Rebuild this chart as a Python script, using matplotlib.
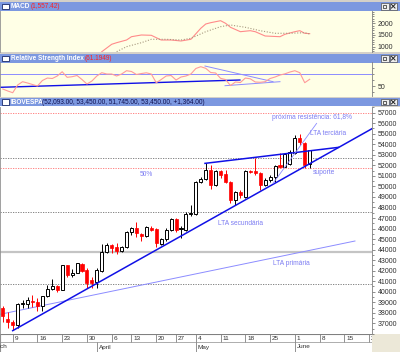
import matplotlib
matplotlib.use('Agg')
import matplotlib.pyplot as plt
from matplotlib.patches import Rectangle
from matplotlib.ticker import MultipleLocator, FixedLocator
import numpy as np
import pandas as pd

plt.rcParams['font.family'] = ['Liberation Sans', 'DejaVu Sans']

# ---------------- data ----------------
holidays = ['2009-04-10', '2009-04-21', '2009-05-01']
calendar_start = '2009-03-02'
first_candle = '2009-03-05'
calendar_end = '2009-06-30'

opens = [38485, 37410, 37160, 36840, 38830, 38830, 39150, 39055, 38675, 39560,
         40226, 40542, 40162, 42505, 41587, 41808, 42631, 42061, 41112, 40954,
         41998, 43802, 44435, 44277, 43900, 44277, 45638, 46081, 45448, 45321,
         46081, 45954, 44498, 44973, 45859, 46904, 45954, 45859, 47347, 47347,
         50449, 50702, 51556, 50132, 51461, 51145, 50449, 48708, 49499, 49024,
         51461, 51461, 51240, 50132, 50607, 50923, 52031, 51873, 52100, 53200,
         54563, 54088, 52093]
closes = [37725, 37160, 36840, 38830, 38900, 39213, 38990, 38675, 39560, 40226,
          40542, 40162, 42505, 41587, 41808, 42695, 41998, 40795, 40795, 42061,
          43802, 44435, 44182, 43865, 44200, 45638, 46081, 45543, 45321, 46112,
          45859, 44593, 45005, 45859, 46904, 45859, 46018, 47347, 47442, 50449,
          50702, 51556, 50132, 51461, 51082, 50449, 48708, 49499, 49183, 51461,
          51335, 51240, 50132, 50607, 50923, 51936, 51873, 53044, 53250, 54563,
          54247, 52031, 53450]
highs = [38600, 38100, 37300, 38900, 39200, 39470, 39690, 39370, 39600, 40640,
         41175, 40640, 42550, 42550, 42200, 42700, 42695, 42220, 41428, 42220,
         44500, 44600, 44500, 44593, 44350, 45764, 46176, 46651, 45543, 46239,
         46239, 46081, 45131, 46018, 46967, 46967, 46239, 47600, 48233, 50512,
         50923, 52189, 52031, 51556, 51556, 51556, 50512, 49562, 49657, 51556,
         51556, 52727, 51398, 50765, 51082, 52031, 53139, 53139, 53450, 54879,
         54950, 54247, 53450]
lows = [37150, 36590, 36365, 36520, 38420, 38420, 38520, 38170, 38170, 39530,
        40160, 40000, 40160, 41430, 41430, 41745, 41900, 40321, 40321, 40321,
        41900, 43650, 43650, 43550, 43740, 44182, 45400, 45226, 44850, 45226,
        45764, 44277, 44435, 44847, 45764, 45701, 45068, 45764, 47220, 47284,
        50290, 50607, 49752, 50069, 50765, 50290, 48391, 48233, 48866, 48929,
        51240, 51082, 49657, 50069, 50449, 50449, 51715, 51800, 52000, 53100,
        53930, 51715, 51745]

# MACD (day index from first candle, value)
macd_day = [20, 22, 23, 25, 26, 28, 30, 31, 32, 34, 36, 38, 40, 41, 42, 44, 45, 46,
            48, 50, 51, 53, 56, 57, 59, 60, 61, 62]
macd_val = [786, 1103, 1171, 1286, 1427, 1500, 1487, 1385, 1286, 1286, 1244, 1316,
            1786, 1970, 2026, 2111, 2000, 1829, 1641, 1684, 1641, 1457, 1427, 1530,
            1641, 1684, 1573, 1557]
signal_day = [23, 25, 28, 30, 33, 36, 38, 41, 44, 46, 49, 52, 55, 58, 61, 62]
signal_val = [786, 1000, 1171, 1316, 1316, 1286, 1359, 1641, 1855, 1927, 1829, 1684,
              1573, 1573, 1598, 1543]

rsi = [45.0, 41.7, 38.8, 51.7, 57.2, 55.0, 52.5, 50.0, 59.2, 63.3,
       62.5, 66.7, 73.8, 64.5, 65.5, 67.5, 60.8, 53.3, 58.3, 66.7,
       72.2, 70.0, 70.0, 66.7, 70.0, 75.5, 74.2, 69.2, 70.8, 72.0,
       70.0, 55.5, 60.8, 66.7, 67.5, 60.0, 65.0, 66.7, 70.0, 79.2,
       82.2, 79.5, 72.5, 71.7, 62.8, 60.8, 50.8, 56.7, 55.8, 63.3,
       62.0, 56.7, 56.2, 57.2, 62.5, 65.0, 68.3, 70.3, 73.3, 75.5,
       72.2, 55.5, 61.2]
rsi_level = 70

macd_title = ('MACD', '(1,557.42)')
rsi_title = ('Relative Strength Index', '(61.1949)')
main_title = ('IBOVESPA', '(52,093.00, 53,450.00, 51,745.00, 53,450.00, +1,364.00)')

fib_levels = [56940, 52664, 51780, 47600, 43800, 40700]
fib_kind = ['red', 'gray', 'red', 'gray', 'solid', 'gray']

# trend lines: (x0, x1), (y0, y1) in (day index, price)
lta_secundaria = ([2, 74.7], [36300, 55512])
wedge_top = ([40.85, 67.8], [52189, 53708])
lta_terciaria = ([54.6, 63.4], [50290, 55987])
lta_primaria = ([-0.57, 71.15], [37852, 44815])
rsi_support = ([-0.57, 47.9], [47.8, 60.0])
rsi_resist = ([40.85, 54.6], [83.3, 57.2])
rsi_base = ([44.9, 56.0], [50.5, 57.2])

notes = [('próxima resistência: 61,8%', 54.3, 56525),
         ('LTA terciária', 62.06, 55044),
         ('suporte', 62.7, 51340),
         ('50%', 27.7, 51150),
         ('LTA secundária', 43.5, 46496),
         ('LTA primária', 54.6, 42700)]

month_names = ['March', 'April', 'May', 'June']

# ---------------- calendar ----------------
XMIN, XMAX = -0.566, 74.59
bdays = pd.bdate_range(calendar_start, calendar_end)
bdays = bdays[~bdays.isin(pd.to_datetime(holidays))]
offset = int(np.where(bdays == pd.Timestamp(first_candle))[0][0])
pos = np.arange(len(bdays)) - offset
mondays = [(p, d) for p, d in zip(pos, bdays)
           if d.weekday() == 0 and XMIN <= p <= XMAX]
month_starts = []
for p, d in zip(pos, bdays):
    if not month_starts or d.month != month_starts[-1][1].month:
        month_starts.append((p, d))

# ---------------- layout ----------------
W, H = 400, 352
fig = plt.figure(figsize=(W / 100, H / 100), dpi=100)
fig.patch.set_facecolor('#D4D0C8')

def rect(x0, y0, x1, y1):
    return [x0 / W, 1 - y1 / H, (x1 - x0) / W, (y1 - y0) / H]

YEL = '#FFFFE6'
TXT = '#7C7CF2'
LIGHT = '#8C8CFF'
BLUE = '#1010E6'

bg = fig.add_axes([0, 0, 1, 1], zorder=0)
bg.set_xlim(0, W); bg.set_ylim(H, 0); bg.axis('off')
bg.add_patch(Rectangle((0, 10.5), W, 41.5, fc=YEL, ec='none'))
bg.add_patch(Rectangle((0, 62.5), W, 34, fc=YEL, ec='none'))
bg.add_patch(Rectangle((0, 106.5), W, 227.5, fc='white', ec='none'))
bg.add_patch(Rectangle((0, 334), 372, 18, fc='white', ec='none'))
bg.add_patch(Rectangle((372, 334), 28, 18, fc='#ECE8D8', ec='none'))

def title_bar(y0, y1, title, value_x, value_color):
    bg.add_patch(Rectangle((0, y0), W, y1 - y0, fc='#7C98E0', ec='none'))
    bg.add_patch(Rectangle((1.8, y0 + 1.6), 7.4, y1 - y0 - 3.2, fc='white',
                           ec='#1A2A6A', lw=0.6))
    yc = (y0 + y1) / 2
    bg.text(11, yc + 0.3, title[0], color='white', fontsize=4.7, va='center',
            ha='left', fontweight='bold')
    bg.text(value_x, yc + 0.3, title[1], color=value_color, fontsize=4.7,
            va='center', ha='left')
    for bx in (381, 389.5):
        bg.add_patch(Rectangle((bx, y0 + 1), 7.5, y1 - y0 - 2, fc='#EDEDED',
                               ec='#505050', lw=0.5))
    bg.add_patch(Rectangle((383, yc - 1.6), 3.4, 3.2, fc='none', ec='#202020', lw=0.5))
    bg.plot([391.5, 395], [yc - 1.8, yc + 1.8], color='#202020', lw=0.7)
    bg.plot([391.5, 395], [yc + 1.8, yc - 1.8], color='#202020', lw=0.7)

title_bar(2, 10.5, macd_title, 30.5, '#FF2020')
title_bar(54, 62.5, rsi_title, 85, '#FF2020')
title_bar(97.7, 106.5, main_title, 41.7, '#101050')

def style_right(a, labelsize=5):
    a.yaxis.tick_right()
    a.set_xticks([])
    for s in ['top', 'bottom']:
        a.spines[s].set_visible(False)
    a.spines['left'].set_color('#909090'); a.spines['left'].set_linewidth(0.6)
    a.spines['right'].set_color('#808080'); a.spines['right'].set_linewidth(0.6)
    a.tick_params(axis='y', which='major', labelsize=labelsize, length=2.5,
                  width=0.5, color='#606060', pad=1.5, labelcolor='#303030')
    a.tick_params(axis='y', which='minor', length=1.5, width=0.5, color='#606060')

# ---- MACD ----
mx = fig.add_axes(rect(0, 10.5, 372, 52), zorder=2)
mx.set_facecolor(YEL)
mx.set_xlim(XMIN, XMAX); mx.set_ylim(773, 2547)
mx.plot(macd_day, macd_val, color='#FF8A8A', lw=0.8)
mx.plot(signal_day, signal_val, color='#A89A80', lw=0.8, ls=(0, (1, 1.5)))
style_right(mx)
mx.set_yticks([1000, 1500, 2000])
mx.yaxis.set_minor_locator(MultipleLocator(100))

# ---- RSI ----
rx = fig.add_axes(rect(0, 62.5, 372, 96.5), zorder=2)
rx.set_facecolor(YEL)
rx.set_xlim(XMIN, XMAX); rx.set_ylim(32.5, 89.2)
rx.axhline(rsi_level, color=LIGHT, lw=0.7)
rx.plot(rsi_support[0], rsi_support[1], color=BLUE, lw=1.0)
rx.plot(rsi_resist[0], rsi_resist[1], color=LIGHT, lw=0.7)
rx.plot(rsi_base[0], rsi_base[1], color=LIGHT, lw=0.7)
rx.plot(np.arange(len(rsi)), rsi, color='#FF9A9A', lw=0.8)
style_right(rx)
rx.set_yticks([50])
rx.yaxis.set_minor_locator(FixedLocator([40, 60, 70, 80]))

# ---- main price panel ----
ax = fig.add_axes(rect(0, 106.5, 372, 334), zorder=2)
ax.set_facecolor('white')
ax.set_xlim(XMIN, XMAX); ax.set_ylim(35984, 57589)
style_right(ax)
ax.set_yticks(range(37000, 57001, 1000))
ax.yaxis.set_minor_locator(MultipleLocator(500))

for lev, kind in zip(fib_levels, fib_kind):
    if kind == 'red':
        ax.axhline(lev, color='#FF7070', lw=0.6, ls=(0, (1.5, 1.5)), zorder=1)
    elif kind == 'gray':
        ax.axhline(lev, color='#707070', lw=0.6, ls=(0, (1.5, 1.5)), zorder=1)
    else:
        ax.axhline(lev, color='#C4C4C4', lw=1.6, zorder=1)

o = np.array(opens); c = np.array(closes); h = np.array(highs); l = np.array(lows)
x = np.arange(len(o))
up = c >= o
ax.vlines(x[up], l[up], h[up], color='black', lw=0.7, zorder=3)
ax.vlines(x[~up], l[~up], h[~up], color='#FF0000', lw=0.7, zorder=3)
ax.bar(x[up], c[up] - o[up], bottom=o[up], width=0.62, facecolor='white',
       edgecolor='black', lw=0.7, zorder=4)
ax.bar(x[~up], o[~up] - c[~up], bottom=c[~up], width=0.62, facecolor='#FF0000',
       edgecolor='#FF0000', lw=0.5, zorder=4)

ax.plot(lta_primaria[0], lta_primaria[1], color=LIGHT, lw=0.7, zorder=2)
ax.plot(lta_secundaria[0], lta_secundaria[1], color=BLUE, lw=1.1, zorder=5)
ax.plot(wedge_top[0], wedge_top[1], color=BLUE, lw=1.1, zorder=5)
ax.plot(lta_terciaria[0], lta_terciaria[1], color=LIGHT, lw=0.6, zorder=5)

for txt, tx, ty in notes:
    ax.text(tx, ty, txt, color=TXT, fontsize=4.8, ha='left', va='center', zorder=6)

# ---- date strip ----
dx = fig.add_axes(rect(0, 334, 372, 352), zorder=2)
dx.set_xlim(XMIN, XMAX); dx.set_ylim(0, 18)
dx.axis('off')
dx.axhline(17.8, color='#808080', lw=0.8)
dx.axhline(10, color='#A0A0A0', lw=0.6)
dx.axvline(XMIN, color='#909090', lw=0.8)
for p, d in mondays:
    dx.vlines(p, 10, 18, color='#808080', lw=0.6)
    dx.text(p + 0.35, 14, str(d.day), fontsize=4.6, color='#303030', ha='left',
            va='center', clip_on=True)
for (p, d), name in zip(month_starts, month_names):
    dx.vlines(p, 0, 10, color='#808080', lw=0.6)
    dx.text(p + 0.35, 5, name, fontsize=4.6, color='#303030', ha='left',
            va='center', clip_on=True)

fig.savefig('out.png', dpi=100, facecolor=fig.get_facecolor())
